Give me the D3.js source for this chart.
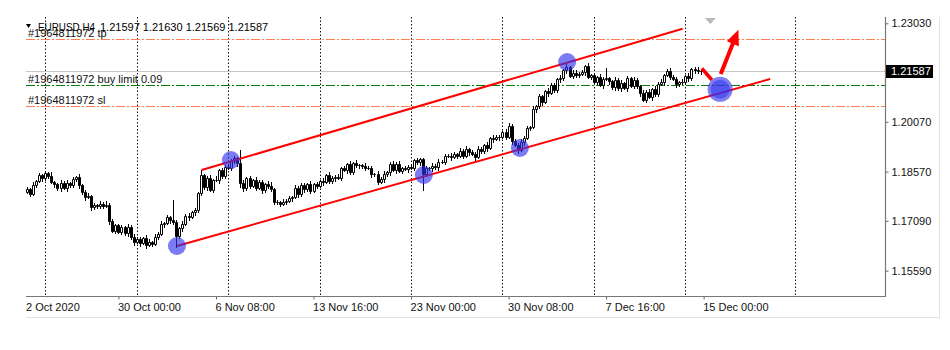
<!DOCTYPE html>
<html><head><meta charset="utf-8">
<script src="https://cdn.jsdelivr.net/npm/d3@7"></script>
<style>body{margin:0;background:#fff;} svg{display:block;}</style>
</head><body><svg id="c" width="950" height="350"></svg>
<script>
// ---------------- DATA ----------------
const symbol = "EURUSD,H4";
const opens = [1.1797,1.1805,1.1791,1.1818,1.1828,1.1846,1.1837,1.1852,1.1845,1.1826,
1.1820,1.1807,1.1823,1.1809,1.1824,1.1817,1.1834,1.1840,1.1817,1.1796,
1.1780,1.1783,1.1751,1.1757,1.1753,1.1760,1.1755,1.1758,1.1708,1.1678,
1.1695,1.1676,1.1690,1.1671,1.1691,1.1660,1.1645,1.1655,1.1641,1.1657,
1.1637,1.1646,1.1640,1.1661,1.1669,1.1698,1.1701,1.1720,1.1710,1.1705,
1.1663,1.1686,1.1699,1.1724,1.1719,1.1735,1.1742,1.1792,1.1846,1.1810,
1.1838,1.1802,1.1831,1.1833,1.1862,1.1843,1.1872,1.1869,1.1889,1.1897,
1.1882,1.1822,1.1807,1.1838,1.1814,1.1831,1.1809,1.1826,1.1801,1.1821,
1.1815,1.1805,1.1766,1.1765,1.1761,1.1767,1.1770,1.1777,1.1781,1.1808,
1.1789,1.1818,1.1804,1.1820,1.1800,1.1819,1.1814,1.1829,1.1827,1.1846,
1.1829,1.1837,1.1842,1.1839,1.1867,1.1863,1.1880,1.1856,1.1882,1.1876,
1.1877,1.1873,1.1868,1.1868,1.1849,1.1851,1.1827,1.1835,1.1849,1.1856,
1.1880,1.1861,1.1881,1.1860,1.1867,1.1865,1.1871,1.1869,1.1891,1.1885,
1.1894,1.1849,1.1867,1.1868,1.1874,1.1870,1.1886,1.1887,1.1905,1.1903,
1.1901,1.1909,1.1905,1.1920,1.1905,1.1925,1.1915,1.1911,1.1902,1.1925,
1.1918,1.1937,1.1928,1.1957,1.1954,1.1962,1.1962,1.1976,1.1961,1.1993,
1.1948,1.1938,1.1921,1.1946,1.1959,1.1987,1.1991,1.2045,1.2053,1.2084,
1.2066,1.2098,1.2094,1.2118,1.2101,1.2135,1.2138,1.2162,1.2173,1.2146,
1.2154,1.2148,1.2152,1.2156,1.2174,1.2143,1.2147,1.2126,1.2143,1.2118,
1.2136,1.2137,1.2128,1.2111,1.2132,1.2107,1.2124,1.2109,1.2137,1.2115,
1.2132,1.2114,1.2092,1.2073,1.2097,1.2080,1.2105,1.2090,1.2120,1.2125,
1.2148,1.2161,1.2142,1.2136,1.2119,1.2126,1.2126,1.2144,1.2137,1.2166,
1.2163,1.2160,1.21597];
const highs = [1.1811,1.1809,1.1827,1.1833,1.1853,1.1849,1.1860,1.1857,1.1855,1.1830,
1.1824,1.1832,1.1828,1.1831,1.1827,1.1842,1.1845,1.1850,1.1821,1.1802,
1.1792,1.1788,1.1764,1.1760,1.1768,1.1765,1.1768,1.1762,1.1714,1.1699,
1.1700,1.1697,1.1693,1.1699,1.1696,1.1670,1.1659,1.1661,1.1661,1.1666,
1.1653,1.1649,1.1669,1.1674,1.1708,1.1705,1.1726,1.1724,1.1771,1.1710,
1.1689,1.1707,1.1729,1.1734,1.1739,1.1748,1.1796,1.1861,1.1851,1.1845,
1.1846,1.1836,1.1843,1.1866,1.1868,1.1876,1.1881,1.1894,1.1904,1.1900,
1.1921,1.1832,1.1842,1.1844,1.1835,1.1840,1.1831,1.1833,1.1824,1.1829,
1.1825,1.1809,1.1772,1.1769,1.1776,1.1775,1.1784,1.1784,1.1816,1.1813,
1.1822,1.1824,1.1824,1.1829,1.1824,1.1826,1.1832,1.1837,1.1851,1.1856,
1.1843,1.1846,1.1851,1.1872,1.1874,1.1883,1.1888,1.1887,1.1892,1.1881,
1.1881,1.1882,1.1873,1.1875,1.1854,1.1859,1.1840,1.1859,1.1860,1.1886,
1.1889,1.1886,1.1888,1.1870,1.1875,1.1876,1.1881,1.1895,1.1897,1.1898,
1.1899,1.1874,1.1871,1.1882,1.1879,1.1896,1.1891,1.1911,1.1909,1.1912,
1.1916,1.1912,1.1928,1.1925,1.1935,1.1929,1.1921,1.1915,1.1934,1.1930,
1.1940,1.1945,1.1962,1.1967,1.1966,1.1968,1.1980,1.1985,1.2002,1.2000,
1.1956,1.1943,1.1956,1.1963,1.1993,1.1995,1.2054,1.2058,1.2091,1.2087,
1.2103,1.2108,1.2122,1.2124,1.2139,1.2147,1.2167,1.2180,1.2176,1.2162,
1.2164,1.2156,1.2162,1.2178,1.2183,1.2152,1.2154,1.2146,1.2151,1.2141,
1.2170,1.2143,1.2132,1.2141,1.2137,1.2131,1.2127,1.2145,1.2142,1.2142,
1.2138,1.2118,1.2101,1.2102,1.2104,1.2108,1.2113,1.2125,1.2135,1.2152,
1.2165,1.2170,1.2147,1.2143,1.2129,1.2134,1.2149,1.2154,1.2170,1.2172,
1.2171,1.2166,1.21630];
const lows = [1.1792,1.1783,1.1787,1.1811,1.1825,1.1828,1.1832,1.1839,1.1822,1.1812,
1.1803,1.1800,1.1806,1.1800,1.1812,1.1811,1.1830,1.1809,1.1791,1.1772,
1.1777,1.1742,1.1746,1.1747,1.1749,1.1747,1.1750,1.1700,1.1674,1.1671,
1.1671,1.1670,1.1667,1.1663,1.1655,1.1637,1.1641,1.1634,1.1638,1.1628,
1.1633,1.1632,1.1635,1.1653,1.1665,1.1691,1.1698,1.1701,1.1699,1.1630,
1.1658,1.1678,1.1695,1.1712,1.1716,1.1726,1.1737,1.1786,1.1806,1.1802,
1.1798,1.1795,1.1828,1.1824,1.1838,1.1837,1.1865,1.1861,1.1884,1.1874,
1.1812,1.1798,1.1802,1.1808,1.1810,1.1801,1.1804,1.1793,1.1797,1.1808,
1.1800,1.1760,1.1761,1.1753,1.1756,1.1759,1.1766,1.1770,1.1778,1.1780,
1.1785,1.1796,1.1799,1.1792,1.1796,1.1807,1.1811,1.1818,1.1822,1.1823,
1.1824,1.1829,1.1835,1.1832,1.1860,1.1854,1.1851,1.1850,1.1872,1.1868,
1.1869,1.1861,1.1865,1.1840,1.1844,1.1821,1.1823,1.1827,1.1844,1.1848,
1.1858,1.1852,1.1855,1.1854,1.1861,1.1857,1.1864,1.1861,1.1881,1.1878,
1.1801,1.1843,1.1863,1.1860,1.1865,1.1862,1.1882,1.1880,1.1900,1.1892,
1.1897,1.1897,1.1900,1.1897,1.1901,1.1908,1.1908,1.1886,1.1897,1.1912,
1.1913,1.1920,1.1924,1.1947,1.1951,1.1953,1.1957,1.1955,1.1957,1.1940,
1.1934,1.1914,1.1918,1.1937,1.1954,1.1981,1.1987,1.2037,1.2048,1.2058,
1.2063,1.2085,1.2089,1.2095,1.2097,1.2127,1.2133,1.2154,1.2142,1.2139,
1.2143,1.2142,1.2148,1.2148,1.2138,1.2135,1.2122,1.2119,1.2115,1.2109,
1.2132,1.2120,1.2106,1.2103,1.2103,1.2100,1.2106,1.2100,1.2110,1.2109,
1.2109,1.2084,1.2069,1.2066,1.2077,1.2071,1.2085,1.2084,1.2116,1.2117,
1.2144,1.2135,1.2133,1.2110,1.2114,1.2120,1.2122,1.2129,1.2132,1.2155,
1.2154,1.2150,1.21569];
const closes = [1.1805,1.1791,1.1818,1.1828,1.1846,1.1837,1.1852,1.1845,1.1826,1.1820,
1.1807,1.1823,1.1809,1.1824,1.1817,1.1834,1.1840,1.1817,1.1796,1.1780,
1.1783,1.1751,1.1757,1.1753,1.1760,1.1755,1.1758,1.1708,1.1678,1.1695,
1.1676,1.1690,1.1671,1.1691,1.1660,1.1645,1.1655,1.1641,1.1657,1.1637,
1.1646,1.1640,1.1661,1.1669,1.1698,1.1701,1.1720,1.1710,1.1705,1.1663,
1.1686,1.1699,1.1724,1.1719,1.1735,1.1742,1.1792,1.1846,1.1810,1.1838,
1.1802,1.1831,1.1833,1.1862,1.1843,1.1872,1.1869,1.1889,1.1897,1.1882,
1.1822,1.1807,1.1838,1.1814,1.1831,1.1809,1.1826,1.1801,1.1821,1.1815,
1.1805,1.1766,1.1765,1.1761,1.1767,1.1770,1.1777,1.1781,1.1808,1.1789,
1.1818,1.1804,1.1820,1.1800,1.1819,1.1814,1.1829,1.1827,1.1846,1.1829,
1.1837,1.1842,1.1839,1.1867,1.1863,1.1880,1.1856,1.1882,1.1876,1.1877,
1.1873,1.1868,1.1868,1.1849,1.1851,1.1827,1.1835,1.1849,1.1856,1.1880,
1.1861,1.1881,1.1860,1.1867,1.1865,1.1871,1.1869,1.1891,1.1885,1.1894,
1.1849,1.1867,1.1868,1.1874,1.1870,1.1886,1.1887,1.1905,1.1903,1.1901,
1.1909,1.1905,1.1920,1.1905,1.1925,1.1915,1.1911,1.1902,1.1925,1.1918,
1.1937,1.1928,1.1957,1.1954,1.1962,1.1962,1.1976,1.1961,1.1993,1.1948,
1.1938,1.1921,1.1946,1.1959,1.1987,1.1991,1.2045,1.2053,1.2084,1.2066,
1.2098,1.2094,1.2118,1.2101,1.2135,1.2138,1.2162,1.2173,1.2146,1.2154,
1.2148,1.2152,1.2156,1.2174,1.2143,1.2147,1.2126,1.2143,1.2118,1.2136,
1.2137,1.2128,1.2111,1.2132,1.2107,1.2124,1.2109,1.2137,1.2115,1.2132,
1.2114,1.2092,1.2073,1.2097,1.2080,1.2105,1.2090,1.2120,1.2125,1.2148,
1.2161,1.2142,1.2136,1.2119,1.2126,1.2126,1.2144,1.2137,1.2166,1.2163,
1.2160,1.21597,1.21587];

const priceTicks = [1.15590, 1.17090, 1.18570, 1.20070, 1.23030];
const firstDateLabel = "2 Oct 2020";
const timeTickBars = [30, 62, 94, 126, 158, 190, 222];
const timeTickLabels = ["30 Oct 00:00", "6 Nov 08:00", "13 Nov 16:00", "23 Nov 00:00", "30 Nov 08:00", "7 Dec 16:00", "15 Dec 00:00"];
const separatorBars = [6, 36, 66, 96, 126, 156, 186, 216, 252];

const orderLabels = ["#1964811972 tp", "#1964811972 buy limit 0.09", "#1964811972 sl"];
const orderPrices = [1.22549, 1.21174, 1.20543];
const orderKinds = ["tp", "limit", "sl"];

const upperChannelBars = [57.3, 215.1];
const upperChannelPrices = [1.18618, 1.22868];
const lowerChannelBars = [49.2, 243.8];
const lowerChannelPrices = [1.16332, 1.21355];

const touchBars = [49.2, 66.9, 130.2, 161.7, 177.2];
const touchPrices = [1.16333, 1.18919, 1.18468, 1.19280, 1.21866];
const entryBar = 227.4, entryPrice = 1.21045;

const pullbackBars = [221.4, 224.7];
const pullbackPrices = [1.21677, 1.21325];
const targetArrowBars = [227.6, 233.4];
const targetArrowPrices = [1.21505, 1.22835];
const markerBar = 224.2, markerPrice = 1.2313;

// ---------------- DRAW ----------------
const svg = d3.select("#c");
const FONT = "'Liberation Sans', Arial, sans-serif";
const plotL = 26, plotR = 885, plotT = 17, plotB = 296;

const x = d3.scaleLinear().domain([0, 100]).range([27, 27 + 304.8]);
const y = d3.scaleLinear().domain([1.15590, 1.23030]).range([270.7, 23.3]);

// window frame (light)
svg.append("line").attr("x1", plotL).attr("x2", 939.5).attr("y1", 317.5).attr("y2", 317.5).attr("stroke", "#e3e3e3");
svg.append("line").attr("x1", 939.5).attr("x2", 939.5).attr("y1", plotT).attr("y2", 317.5).attr("stroke", "#e3e3e3");

// week separators
svg.append("g").selectAll("line").data(separatorBars).join("line")
  .attr("x1", d => Math.round(x(d)) + 0.5).attr("x2", d => Math.round(x(d)) + 0.5)
  .attr("y1", plotT).attr("y2", plotB)
  .attr("stroke", "#111").attr("stroke-width", 1).attr("stroke-dasharray", "1.5,2");

// bid line
const lastClose = closes[closes.length - 1];
svg.append("line").attr("x1", plotL).attr("x2", plotR)
  .attr("y1", Math.round(y(lastClose)) + 0.5).attr("y2", Math.round(y(lastClose)) + 0.5)
  .attr("stroke", "#c8c8c8");

// order lines
const orderColor = {tp: "#ff7f50", limit: "#0a7a0a", sl: "#ff7f50"};
const og = svg.append("g");
og.selectAll("line").data(orderPrices).join("line")
  .attr("x1", plotL).attr("x2", plotR)
  .attr("y1", d => Math.round(y(d)) + 0.5).attr("y2", d => Math.round(y(d)) + 0.5)
  .attr("stroke", (d, i) => orderColor[orderKinds[i]]).attr("stroke-width", 1)
  .attr("stroke-dasharray", "9,2,2,2");
og.selectAll("text").data(orderPrices).join("text")
  .attr("x", 28).attr("y", d => Math.round(y(d)) - 2)
  .attr("font-family", FONT).attr("font-size", 11).attr("fill", "#111")
  .text((d, i) => orderLabels[i]);

// candles
const idx = d3.range(closes.length);
const cg = svg.append("g");
cg.selectAll("line").data(idx).join("line")
  .attr("x1", i => Math.round(x(i)) + 0.5).attr("x2", i => Math.round(x(i)) + 0.5)
  .attr("y1", i => Math.round(y(highs[i]))).attr("y2", i => Math.round(y(lows[i])) + 1)
  .attr("stroke", "#000").attr("stroke-width", 1).attr("shape-rendering", "crispEdges");
cg.selectAll("path").data(idx).join("path")
  .attr("d", i => {
    const cx = Math.round(x(i));
    const top = Math.round(y(Math.max(opens[i], closes[i]))) + 0.5;
    const bot = Math.round(y(Math.min(opens[i], closes[i]))) + 0.5;
    return `M${cx - 0.5},${top}h2V${bot}h-2Z`;
  })
  .attr("fill", i => closes[i] >= opens[i] ? "#fff" : "#000")
  .attr("stroke", "#000").attr("stroke-width", 1);

// channel lines
const lineGen = d3.line().x(d => x(d[0])).y(d => y(d[1]));
svg.append("path").attr("d", lineGen(d3.zip(upperChannelBars, upperChannelPrices)))
  .attr("stroke", "#ff0000").attr("stroke-width", 2).attr("fill", "none");
svg.append("path").attr("d", lineGen(d3.zip(lowerChannelBars, lowerChannelPrices)))
  .attr("stroke", "#ff0000").attr("stroke-width", 2).attr("fill", "none");

// touch markers
svg.append("g").selectAll("circle").data(touchBars).join("circle")
  .attr("cx", d => x(d)).attr("cy", (d, i) => y(touchPrices[i])).attr("r", 9)
  .attr("fill", "rgb(50,50,235)").attr("fill-opacity", 0.64);

// red pullback segment and arrow
svg.append("path").attr("d", lineGen(d3.zip(pullbackBars, pullbackPrices)))
  .attr("stroke", "#ff0000").attr("stroke-width", 3.5).attr("fill", "none");
{
  const x0 = x(targetArrowBars[0]), y0 = y(targetArrowPrices[0]);
  const x1 = x(targetArrowBars[1]), y1 = y(targetArrowPrices[1]);
  const L = Math.hypot(x1 - x0, y1 - y0), ux = (x1 - x0) / L, uy = (y1 - y0) / L;
  const hl = 15, hw = 6.5;
  const bx = x1 - ux * hl, by = y1 - uy * hl;
  svg.append("line").attr("x1", x0).attr("y1", y0).attr("x2", bx + ux * 2).attr("y2", by + uy * 2)
    .attr("stroke", "#ff0000").attr("stroke-width", 4);
  svg.append("path").attr("d", `M${x1},${y1}L${bx - uy * hw},${by + ux * hw}L${bx + uy * hw},${by - ux * hw}Z`)
    .attr("fill", "#ff0000");
}

// entry marker (big)
svg.append("circle").attr("cx", x(entryBar)).attr("cy", y(entryPrice)).attr("r", 12.5)
  .attr("fill", "rgb(50,50,235)").attr("fill-opacity", 0.62);
svg.append("circle").attr("cx", x(entryBar)).attr("cy", y(entryPrice)).attr("r", 9.5)
  .attr("fill", "rgb(50,50,235)").attr("fill-opacity", 0.55);

// gray down marker
{
  const mx = x(markerBar), my = y(markerPrice);
  svg.append("path").attr("d", `M${mx - 5.5},${my - 2}L${mx + 5.5},${my - 2}L${mx},${my + 4}Z`).attr("fill", "#b9b9b9");
}

// axes
const yAxis = d3.axisRight(y).tickValues(priceTicks).tickFormat(d3.format(".5f")).tickSize(3).tickPadding(3);
const gy = svg.append("g").attr("transform", `translate(${plotR + 0.5},0)`).call(yAxis)
  .attr("font-family", FONT).attr("font-size", 11);
gy.select(".domain").remove();
gy.selectAll(".tick line").attr("stroke", "#666");
gy.selectAll(".tick text").attr("fill", "#111");

const xAxis = d3.axisBottom(x).tickValues(timeTickBars).tickFormat((d, i) => timeTickLabels[i]).tickSize(3).tickPadding(4);
const gx = svg.append("g").attr("transform", `translate(0,${plotB + 0.5})`).call(xAxis)
  .attr("font-family", FONT).attr("font-size", 11);
gx.select(".domain").remove();
gx.selectAll(".tick line").attr("stroke", "#666");
gx.selectAll(".tick text").attr("text-anchor", "start").attr("dx", -1).attr("fill", "#111");
svg.append("text").attr("x", plotL).attr("y", 310.5).attr("font-family", FONT).attr("font-size", 11)
  .attr("fill", "#111").text(firstDateLabel);

svg.append("line").attr("x1", plotL).attr("x2", plotR + 1).attr("y1", plotB + 0.5).attr("y2", plotB + 0.5).attr("stroke", "#777").attr("stroke-width", 1.2);
svg.append("line").attr("x1", plotR + 0.5).attr("x2", plotR + 0.5).attr("y1", plotT).attr("y2", plotB + 1).attr("stroke", "#777").attr("stroke-width", 1.2);

// current price box
{
  const py = y(lastClose);
  svg.append("rect").attr("x", plotR + 1).attr("y", Math.round(py) - 6).attr("width", 47).attr("height", 13).attr("fill", "#000");
  svg.append("text").attr("x", plotR + 6).attr("y", py).attr("dy", "0.35em")
    .attr("font-family", FONT).attr("font-size", 11).attr("fill", "#fff").text(d3.format(".5f")(lastClose));
}

// header
{
  const n = closes.length - 1;
  const f = d3.format(".5f");
  svg.append("path").attr("d", "M26,24L31,24L28.5,28Z").attr("fill", "#000");
  svg.append("text").attr("x", 38).attr("y", 30.5).attr("font-family", FONT).attr("font-size", 11).attr("fill", "#000")
    .attr("textLength", 57).attr("lengthAdjust", "spacingAndGlyphs").text(symbol);
  svg.append("text").attr("x", 100).attr("y", 30.5).attr("font-family", FONT).attr("font-size", 11).attr("fill", "#000")
    .text([opens[n], highs[n], lows[n], closes[n]].map(f).join(" "));
}
</script>
</body></html>
